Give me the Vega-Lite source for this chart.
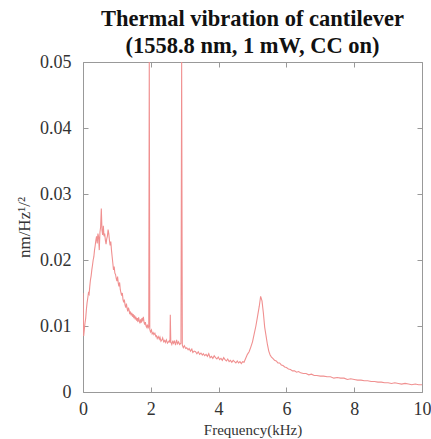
{
  "$schema": "https://vega.github.io/schema/vega-lite/v6.json",
  "autosize": "none",
  "width": 339,
  "height": 330,
  "padding": {"left": 83, "top": 62, "right": 9, "bottom": 47},
  "background": "white",
  "title": {
    "text": ["Thermal vibration of cantilever", "(1558.8 nm, 1 mW, CC on)"],
    "font": "Liberation Serif",
    "fontSize": 22.5,
    "fontWeight": "bold",
    "color": "#111",
    "lineHeight": 27,
    "anchor": "middle",
    "frame": "group",
    "offset": -4
  },
  "config": {
    "view": {"stroke": null},
    "axis": {
      "labelFont": "Liberation Serif",
      "titleFont": "Liberation Serif",
      "labelFontSize": 18,
      "labelColor": "#333",
      "titleColor": "#333",
      "titleFontWeight": "normal",
      "domainColor": "#999",
      "tickColor": "#999",
      "labelFlush": false,
      "grid": false
    }
  },
  "data": {"values": [
    {"f": 0.00, "a": 0.0150}, {"f": 0.02, "a": 0.0085}, {"f": 0.04, "a": 0.0095}, {"f": 0.06, "a": 0.0105},
    {"f": 0.08, "a": 0.0112}, {"f": 0.10, "a": 0.0125}, {"f": 0.12, "a": 0.0135}, {"f": 0.14, "a": 0.0142},
    {"f": 0.16, "a": 0.0150}, {"f": 0.18, "a": 0.0148}, {"f": 0.20, "a": 0.0160}, {"f": 0.22, "a": 0.0170},
    {"f": 0.24, "a": 0.0176}, {"f": 0.26, "a": 0.0185}, {"f": 0.28, "a": 0.0192}, {"f": 0.30, "a": 0.0200},
    {"f": 0.32, "a": 0.0205}, {"f": 0.34, "a": 0.0215}, {"f": 0.36, "a": 0.0222}, {"f": 0.38, "a": 0.0230},
    {"f": 0.40, "a": 0.0236}, {"f": 0.42, "a": 0.0225}, {"f": 0.44, "a": 0.0240}, {"f": 0.46, "a": 0.0235},
    {"f": 0.48, "a": 0.0215}, {"f": 0.50, "a": 0.0242}, {"f": 0.52, "a": 0.0250}, {"f": 0.54, "a": 0.0278},
    {"f": 0.56, "a": 0.0245}, {"f": 0.58, "a": 0.0238}, {"f": 0.60, "a": 0.0252}, {"f": 0.62, "a": 0.0236},
    {"f": 0.64, "a": 0.0240}, {"f": 0.66, "a": 0.0230}, {"f": 0.68, "a": 0.0224}, {"f": 0.70, "a": 0.0232},
    {"f": 0.72, "a": 0.0236}, {"f": 0.74, "a": 0.0246}, {"f": 0.76, "a": 0.0240}, {"f": 0.78, "a": 0.0230},
    {"f": 0.80, "a": 0.0222}, {"f": 0.82, "a": 0.0228}, {"f": 0.84, "a": 0.0215}, {"f": 0.86, "a": 0.0205},
    {"f": 0.88, "a": 0.0195}, {"f": 0.90, "a": 0.0185}, {"f": 0.92, "a": 0.0190}, {"f": 0.94, "a": 0.0180},
    {"f": 0.96, "a": 0.0178}, {"f": 0.98, "a": 0.0172}, {"f": 1.00, "a": 0.0168}, {"f": 1.02, "a": 0.0175},
    {"f": 1.04, "a": 0.0165}, {"f": 1.06, "a": 0.0160}, {"f": 1.08, "a": 0.0166}, {"f": 1.10, "a": 0.0155},
    {"f": 1.12, "a": 0.0150}, {"f": 1.14, "a": 0.0146}, {"f": 1.16, "a": 0.0150}, {"f": 1.18, "a": 0.0140},
    {"f": 1.20, "a": 0.0136}, {"f": 1.22, "a": 0.0140}, {"f": 1.24, "a": 0.0132}, {"f": 1.26, "a": 0.0128},
    {"f": 1.28, "a": 0.0134}, {"f": 1.30, "a": 0.0127}, {"f": 1.32, "a": 0.0122}, {"f": 1.34, "a": 0.0128},
    {"f": 1.36, "a": 0.0124}, {"f": 1.38, "a": 0.0118}, {"f": 1.40, "a": 0.0122}, {"f": 1.42, "a": 0.0116},
    {"f": 1.44, "a": 0.0120}, {"f": 1.46, "a": 0.0114}, {"f": 1.48, "a": 0.0118}, {"f": 1.50, "a": 0.0112},
    {"f": 1.52, "a": 0.0116}, {"f": 1.54, "a": 0.0110}, {"f": 1.56, "a": 0.0114}, {"f": 1.58, "a": 0.0108},
    {"f": 1.60, "a": 0.0112}, {"f": 1.62, "a": 0.0106}, {"f": 1.64, "a": 0.0113}, {"f": 1.66, "a": 0.0108},
    {"f": 1.68, "a": 0.0104}, {"f": 1.70, "a": 0.0110}, {"f": 1.72, "a": 0.0105}, {"f": 1.74, "a": 0.0112},
    {"f": 1.76, "a": 0.0109}, {"f": 1.78, "a": 0.0114}, {"f": 1.80, "a": 0.0106}, {"f": 1.82, "a": 0.0102},
    {"f": 1.84, "a": 0.0106}, {"f": 1.86, "a": 0.0100}, {"f": 1.88, "a": 0.0098}, {"f": 1.90, "a": 0.0102},
    {"f": 1.92, "a": 0.0097}, {"f": 1.94, "a": 0.0099}, {"f": 1.955, "a": 0.0500}, {"f": 1.97, "a": 0.0095},
    {"f": 1.99, "a": 0.0091}, {"f": 2.02, "a": 0.0094}, {"f": 2.04, "a": 0.0088}, {"f": 2.07, "a": 0.0090},
    {"f": 2.09, "a": 0.0087}, {"f": 2.12, "a": 0.0089}, {"f": 2.15, "a": 0.0084}, {"f": 2.17, "a": 0.0085},
    {"f": 2.19, "a": 0.0081}, {"f": 2.22, "a": 0.0084}, {"f": 2.25, "a": 0.0080}, {"f": 2.27, "a": 0.0083},
    {"f": 2.30, "a": 0.0077}, {"f": 2.33, "a": 0.0079}, {"f": 2.35, "a": 0.0082}, {"f": 2.38, "a": 0.0076},
    {"f": 2.41, "a": 0.0078}, {"f": 2.43, "a": 0.0075}, {"f": 2.46, "a": 0.0079}, {"f": 2.49, "a": 0.0074},
    {"f": 2.52, "a": 0.0076}, {"f": 2.55, "a": 0.0078}, {"f": 2.565, "a": 0.0075},
    {"f": 2.575, "a": 0.0117}, {"f": 2.59, "a": 0.0076}, {"f": 2.62, "a": 0.0072}, {"f": 2.65, "a": 0.0078},
    {"f": 2.67, "a": 0.0074}, {"f": 2.70, "a": 0.0077}, {"f": 2.73, "a": 0.0071}, {"f": 2.76, "a": 0.0079},
    {"f": 2.79, "a": 0.0073}, {"f": 2.82, "a": 0.0076}, {"f": 2.85, "a": 0.0072}, {"f": 2.89, "a": 0.0074},
    {"f": 2.91, "a": 0.0500}, {"f": 2.93, "a": 0.0071}, {"f": 2.96, "a": 0.0067}, {"f": 2.99, "a": 0.0070},
    {"f": 3.03, "a": 0.0066}, {"f": 3.06, "a": 0.0067}, {"f": 3.10, "a": 0.0064}, {"f": 3.13, "a": 0.0066},
    {"f": 3.17, "a": 0.0062}, {"f": 3.21, "a": 0.0065}, {"f": 3.24, "a": 0.0060}, {"f": 3.28, "a": 0.0062},
    {"f": 3.32, "a": 0.0061}, {"f": 3.36, "a": 0.0058}, {"f": 3.40, "a": 0.0061}, {"f": 3.44, "a": 0.0057},
    {"f": 3.48, "a": 0.0059}, {"f": 3.52, "a": 0.0056}, {"f": 3.55, "a": 0.0058}, {"f": 3.59, "a": 0.0055},
    {"f": 3.63, "a": 0.0057}, {"f": 3.67, "a": 0.0054}, {"f": 3.71, "a": 0.0058}, {"f": 3.75, "a": 0.0052},
    {"f": 3.79, "a": 0.0054}, {"f": 3.83, "a": 0.0051}, {"f": 3.87, "a": 0.0055}, {"f": 3.91, "a": 0.0052},
    {"f": 3.95, "a": 0.0050}, {"f": 3.99, "a": 0.0053}, {"f": 4.03, "a": 0.0049}, {"f": 4.07, "a": 0.0051},
    {"f": 4.11, "a": 0.0048}, {"f": 4.15, "a": 0.0052}, {"f": 4.19, "a": 0.0049}, {"f": 4.23, "a": 0.0047},
    {"f": 4.27, "a": 0.0050}, {"f": 4.31, "a": 0.0046}, {"f": 4.35, "a": 0.0048}, {"f": 4.39, "a": 0.0045},
    {"f": 4.43, "a": 0.0048}, {"f": 4.47, "a": 0.0046}, {"f": 4.51, "a": 0.0044}, {"f": 4.55, "a": 0.0047},
    {"f": 4.59, "a": 0.0044}, {"f": 4.63, "a": 0.0046}, {"f": 4.67, "a": 0.0043}, {"f": 4.71, "a": 0.0046},
    {"f": 4.75, "a": 0.0045}, {"f": 4.80, "a": 0.0051},
    {"f": 4.85, "a": 0.0057}, {"f": 4.90, "a": 0.0061}, {"f": 4.95, "a": 0.0068}, {"f": 5.00, "a": 0.0076},
    {"f": 5.05, "a": 0.0088}, {"f": 5.10, "a": 0.0100}, {"f": 5.15, "a": 0.0115}, {"f": 5.20, "a": 0.0130},
    {"f": 5.24, "a": 0.0145}, {"f": 5.28, "a": 0.0138}, {"f": 5.32, "a": 0.0120}, {"f": 5.36, "a": 0.0098},
    {"f": 5.40, "a": 0.0085}, {"f": 5.44, "a": 0.0072}, {"f": 5.48, "a": 0.0062}, {"f": 5.52, "a": 0.0056},
    {"f": 5.56, "a": 0.0053}, {"f": 5.60, "a": 0.0051}, {"f": 5.65, "a": 0.0048}, {"f": 5.70, "a": 0.0047},
    {"f": 5.75, "a": 0.0044}, {"f": 5.80, "a": 0.0044}, {"f": 5.85, "a": 0.0041}, {"f": 5.90, "a": 0.0040},
    {"f": 5.95, "a": 0.0038}, {"f": 6.00, "a": 0.0037}, {"f": 6.06, "a": 0.0035}, {"f": 6.12, "a": 0.0034},
    {"f": 6.18, "a": 0.0032}, {"f": 6.24, "a": 0.0032}, {"f": 6.30, "a": 0.0030}, {"f": 6.36, "a": 0.0031},
    {"f": 6.42, "a": 0.0029}, {"f": 6.50, "a": 0.0028}, {"f": 6.58, "a": 0.0028}, {"f": 6.66, "a": 0.0026},
    {"f": 6.74, "a": 0.0027}, {"f": 6.82, "a": 0.0025}, {"f": 6.90, "a": 0.0025}, {"f": 7.00, "a": 0.0024},
    {"f": 7.10, "a": 0.0024}, {"f": 7.20, "a": 0.0023}, {"f": 7.30, "a": 0.0023}, {"f": 7.40, "a": 0.0021},
    {"f": 7.50, "a": 0.0022}, {"f": 7.60, "a": 0.0021}, {"f": 7.70, "a": 0.0021}, {"f": 7.80, "a": 0.0019},
    {"f": 7.90, "a": 0.0020}, {"f": 8.00, "a": 0.0019}, {"f": 8.10, "a": 0.0018}, {"f": 8.20, "a": 0.0018},
    {"f": 8.30, "a": 0.0017}, {"f": 8.40, "a": 0.0017}, {"f": 8.50, "a": 0.0016}, {"f": 8.60, "a": 0.0016},
    {"f": 8.70, "a": 0.0015}, {"f": 8.80, "a": 0.0015}, {"f": 8.90, "a": 0.0014}, {"f": 9.00, "a": 0.0014},
    {"f": 9.10, "a": 0.0013}, {"f": 9.20, "a": 0.0014}, {"f": 9.30, "a": 0.0013}, {"f": 9.40, "a": 0.0012},
    {"f": 9.50, "a": 0.0013}, {"f": 9.60, "a": 0.0012}, {"f": 9.70, "a": 0.0011}, {"f": 9.80, "a": 0.0012},
    {"f": 9.90, "a": 0.0011}, {"f": 10.00, "a": 0.0011}
  ]},
  "layer": [
    {
      "mark": {"type": "line", "color": "#f09090", "strokeWidth": 1.1, "clip": true},
      "encoding": {
        "x": {"field": "f", "type": "quantitative", "scale": {"domain": [0, 10], "nice": false},
              "axis": {"orient": "bottom", "values": [0, 2, 4, 6, 8, 10], "tickSize": -5, "labelPadding": 13,
                       "title": "Frequency(kHz)", "titleFontSize": 15, "titlePadding": 4}},
        "y": {"field": "a", "type": "quantitative", "scale": {"domain": [0, 0.05], "nice": false},
              "axis": {"orient": "left", "values": [0, 0.01, 0.02, 0.03, 0.04, 0.05], "tickSize": -5, "labelPadding": 17,
                       "labelExpr": "datum.value === 0 ? '0' : format(datum.value, '.2f')",
                       "title": "nm/Hz¹/²", "titleFontSize": 17, "titlePadding": 6}}
      }
    },
    {
      "mark": {"type": "line", "opacity": 0},
      "encoding": {
        "x": {"field": "f", "type": "quantitative", "scale": {"domain": [0, 10], "nice": false},
              "axis": {"orient": "top", "values": [0, 2, 4, 6, 8, 10], "tickSize": -5, "labels": false, "title": null}},
        "y": {"field": "a", "type": "quantitative", "scale": {"domain": [0, 0.05], "nice": false},
              "axis": {"orient": "right", "values": [0, 0.01, 0.02, 0.03, 0.04, 0.05], "tickSize": -5, "labels": false, "title": null}}
      }
    }
  ],
  "resolve": {"axis": {"x": "independent", "y": "independent"}}
}
